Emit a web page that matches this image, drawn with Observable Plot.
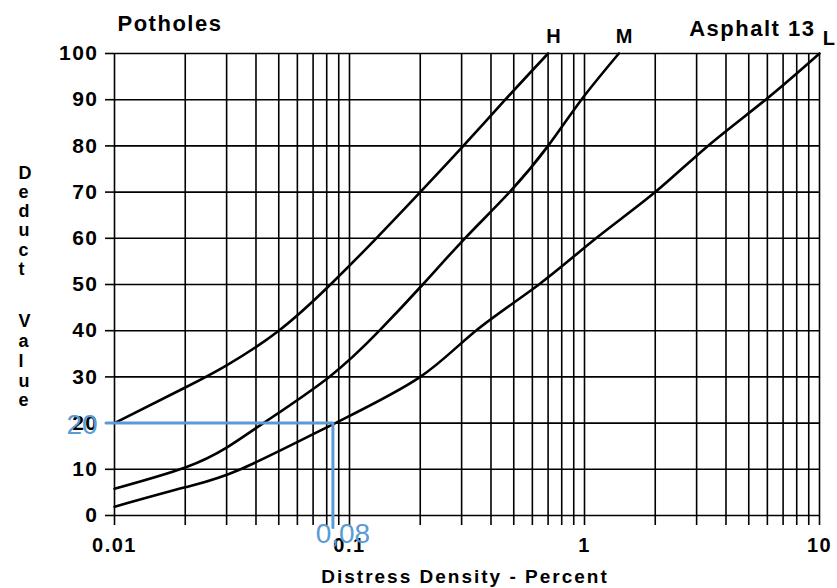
<!DOCTYPE html>
<html><head><meta charset="utf-8">
<script src="https://cdn.jsdelivr.net/npm/d3@7"></script>
<script src="https://cdn.jsdelivr.net/npm/@observablehq/plot@0.6"></script>
<style>body{margin:0;background:#fff;} svg{display:block}</style>
</head><body><div id="chart"></div>
<script>
// Curves (Distress Density %, Deduct Value)
const hX = [0.01, 0.02, 0.03, 0.05, 0.083, 0.13, 0.2, 0.305, 0.46, 0.7];
const hY = [20, 27.7, 32.5, 40, 50, 60, 70, 80, 90, 100];
const mX = [0.01, 0.02, 0.03, 0.043, 0.082, 0.134, 0.205, 0.31, 0.48, 0.7, 0.97, 1.4];
const mY = [5.8, 10.4, 14.7, 20, 30, 40, 50, 60, 70, 80, 90, 100];
const lX = [0.01, 0.02, 0.0344, 0.087, 0.2, 0.345, 0.64, 1.12, 2, 3.35, 5.9, 10];
const lY = [1.9, 6.1, 10, 20, 30, 40, 50, 60, 70, 80, 90, 100];
const seriesNames = ["H", "M", "L"];

// Axes
const xTicks = [0.01,0.02,0.03,0.04,0.05,0.06,0.07,0.08,0.09,
                0.1,0.2,0.3,0.4,0.5,0.6,0.7,0.8,0.9,
                1,2,3,4,5,6,7,8,9,10];
const xTickLabels = {"0.01": "0.01", "0.1": "0.1", "1": "1", "10": "10"};
const yTicks = [0,10,20,30,40,50,60,70,80,90,100];

// Texts
const title = "Potholes";
const subtitle = "Asphalt 13";
const xLabel = "Distress Density - Percent";
const yLabelTop = "Deduct";
const yLabelBottom = "Value";

// Blue annotation
const annotX = [0.0092, 0.085, 0.085];
const annotY = [20, 20, -2.6];
const annotYLabel = "20";
const annotXLabel = "0,08";
const blue = "#5b9bd5";

const curves = [
  ...hX.map((x, i) => ({series: seriesNames[0], x, y: hY[i]})),
  ...mX.map((x, i) => ({series: seriesNames[1], x, y: mY[i]})),
  ...lX.map((x, i) => ({series: seriesNames[2], x, y: lY[i]}))
];
const endsHM = [
  {series: seriesNames[0], x: hX[hX.length-1], y: hY[hY.length-1]},
  {series: seriesNames[1], x: mX[mX.length-1], y: mY[mY.length-1]}
];
const endsL = [{series: seriesNames[2], x: lX[lX.length-1], y: lY[lY.length-1]}];
const annot = annotX.map((x, i) => ({x, y: annotY[i]}));

const plot = Plot.plot({
  width: 837,
  height: 588,
  marginLeft: 114,
  marginRight: 18,
  marginTop: 53,
  marginBottom: 73,
  style: "font-family: 'Liberation Sans', Arial, sans-serif; font-weight: bold; font-size: 20px; letter-spacing: 1.5px; background: white; color: black; overflow: visible;",
  x: {type: "log", domain: [0.01, 10]},
  y: {domain: [0, 100]},
  marks: [
    Plot.ruleX(xTicks, {stroke: "black", strokeWidth: 1.6}),
    Plot.ruleY(yTicks, {stroke: "black", strokeWidth: 1.6}),
    Plot.axisX({ticks: xTicks, tickSize: 10, tickPadding: 12, strokeWidth: 1.6,
      tickFormat: d => xTickLabels[String(d)] ?? "", label: null, fontSize: 20}),
    Plot.axisY({ticks: yTicks, tickSize: 9, tickPadding: 7, strokeWidth: 1.6,
      label: null, fontSize: 21}),
    Plot.line(curves, {x: "x", y: "y", z: "series", stroke: "black", strokeWidth: 2.6, curve: "natural"}),
    Plot.text(endsHM, {x: "x", y: "y", text: "series", dx: 6, dy: -17, fontSize: 20, fontWeight: "bold"}),
    Plot.text(endsL, {x: "x", y: "y", text: "series", dx: 10, dy: -15, fontSize: 20, fontWeight: "bold"}),
    Plot.text([title], {frameAnchor: "top-left", lineAnchor: "middle", text: d => d, dx: 3, dy: -30, textAnchor: "start", fontSize: 22}),
    Plot.text([subtitle], {frameAnchor: "top-right", lineAnchor: "middle", text: d => d, dx: -4, dy: -25, textAnchor: "end", fontSize: 22}),
    Plot.text([xLabel], {frameAnchor: "bottom", lineAnchor: "middle", text: d => d, dx: -2, dy: 61, fontSize: 19}),
    Plot.text([yLabelTop.split("").join("\n")], {frameAnchor: "left", lineAnchor: "middle", text: d => d, dx: -96, dy: -64, fontSize: 18, lineHeight: 1.07}),
    Plot.text([yLabelBottom.split("").join("\n")], {frameAnchor: "left", lineAnchor: "middle", text: d => d, dx: -96, dy: 76, fontSize: 18, lineHeight: 1.1}),
    Plot.line(annot, {x: "x", y: "y", stroke: blue, strokeWidth: 3, clip: false}),
    Plot.text([annotYLabel], {x: annotX[0], y: annotY[0], text: d => d, dx: -24, dy: 2, fill: blue, fontSize: 28, fontWeight: "normal"}),
    Plot.text([annotXLabel], {x: annotX[1], y: 0, text: d => d, dx: 10, dy: 19, fill: blue, fontSize: 28, fontWeight: "normal"})
  ]
});
d3.select(plot).selectAll(`g[fill="${blue}"] text, g[fill="${blue}"]`).style("letter-spacing", "0px");
d3.select(plot).selectAll("text").filter(function() { return this.textContent === xLabel; }).style("letter-spacing", "2px");
document.getElementById("chart").appendChild(plot);
</script>
</body></html>
